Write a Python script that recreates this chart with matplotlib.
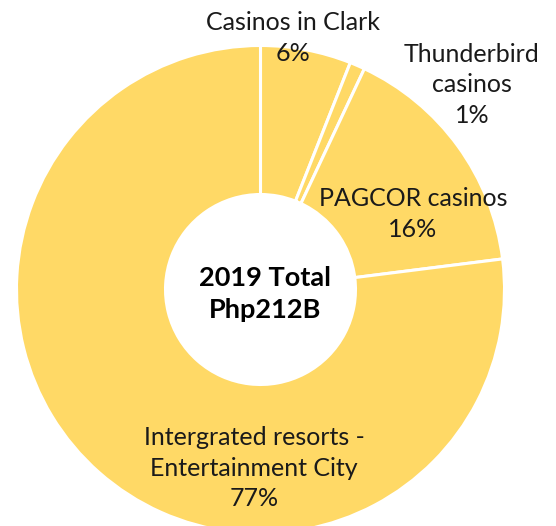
import matplotlib
matplotlib.use("Agg")
import matplotlib.pyplot as plt

# Data
categories = ["Casinos in Clark", "Thunderbird\ncasinos", "PAGCOR casinos",
              "Intergrated resorts -\nEntertainment City"]
shares = [6, 1, 16, 77]
center_title = "2019 Total\nPhp212B"

# Layout (pixels in a 556x526 canvas)
W, H = 556, 526
CX, CY, R = 260.5, 289.5, 244.0
label_px = [(293, 38), (472, 85), (413, 214), (254, 468)]
center_px = (265, 294)

fig = plt.figure(figsize=(W / 100, H / 100), dpi=100)
ax = fig.add_axes([(CX - R) / W, (H - CY - R) / H, 2 * R / W, 2 * R / H])

ax.pie(shares, radius=1.0, startangle=90, counterclock=False,
       colors=["#FFD966"] * len(shares),
       wedgeprops=dict(width=1 - 95 / R, edgecolor="white", linewidth=2.2))
ax.set_xlim(-1, 1)
ax.set_ylim(-1, 1)
ax.axis("off")

def to_data(px, py):
    return (px - CX) / R, (CY - py) / R

font = ["Lato", "DejaVu Sans"]
for (px, py), name, val in zip(label_px, categories, shares):
    x, y = to_data(px, py)
    ax.text(x, y, f"{name}\n{val}%", ha="center", va="center",
            fontsize=18, family=font, color="#1a1a1a", linespacing=1.42)

x, y = to_data(*center_px)
ax.text(x, y, center_title, ha="center", va="center", fontsize=19.5,
        family=font, fontweight="bold", color="black", linespacing=1.35)

fig.savefig("out.png", dpi=100)
